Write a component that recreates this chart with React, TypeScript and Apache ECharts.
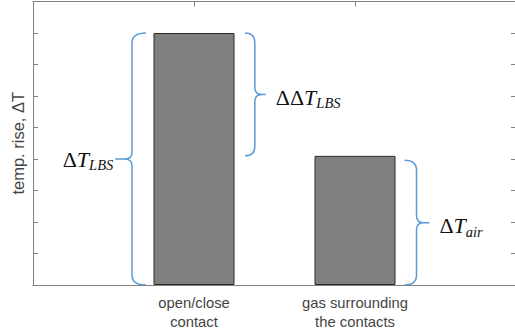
import React, { useEffect, useRef } from "react";
import * as echarts from "echarts";

const categories = ["open/close\ncontact", "gas surrounding\nthe contacts"];
const categoryPositions = [1, 2];
const values = [8, 4.1];

const yMin = 0;
const yMax = 9;
const xMin = 0;
const xMax = 3;

// brace annotations
const bracePrefix = ["Δ", "ΔΔ", "Δ"];
const braceSub = ["LBS", "LBS", "air"];
const braceSpineX = [0.615, 1.378, 2.382];
const braceEndX = [0.702, 1.317, 2.308];
const braceTipX = [0.511, 1.446, 2.462];
const braceLow = [0, 4.1, 0];
const braceHigh = [8, 8, 3.96];

const AXIS = "#808080";
const TEXT = "#444444";
const BRACE = "#5b9bd5";

export default function App() {
  const ref = useRef<HTMLDivElement>(null);
  useEffect(() => {
    if (!ref.current) return;
    const chart = echarts.init(ref.current, undefined, { renderer: "svg" });
    const braceData = braceSpineX.map((s, i) => [s, braceEndX[i], braceTipX[i], braceLow[i], braceHigh[i]]);
    const axisCommon = {
      type: "value" as const,
      splitLine: { show: false },
      axisLine: { show: true, onZero: false, lineStyle: { color: AXIS, width: 1 } },
      axisTick: { show: true, inside: true, length: 5, lineStyle: { color: AXIS } },
    };
    chart.setOption({
      animation: false,
      grid: { left: 33, right: 0, top: 1.5, bottom: 46 },
      xAxis: [
        {
          ...axisCommon,
          position: "bottom",
          min: xMin,
          max: xMax,
          interval: 1,
          axisLabel: {
            show: true,
            margin: 8,
            fontSize: 14.8,
            lineHeight: 19,
            color: TEXT,
            fontFamily: "Liberation Sans",
            formatter: (v: number) => {
              const idx = categoryPositions.indexOf(v);
              return idx >= 0 ? categories[idx] : "";
            },
          },
        },
        {
          ...axisCommon,
          position: "top",
          min: xMin,
          max: xMax,
          interval: 1,
          axisLabel: { show: false },
        },
      ],
      yAxis: [
        {
          ...axisCommon,
          position: "left",
          min: yMin,
          max: yMax,
          interval: 1,
          axisLabel: { show: false },
          name: "temp. rise, ΔT",
          nameLocation: "middle",
          nameGap: 7,
          nameTextStyle: { fontSize: 16.5, color: TEXT, fontFamily: "Liberation Sans" },
        },
        {
          ...axisCommon,
          position: "right",
          min: yMin,
          max: yMax,
          interval: 1,
          axisLabel: { show: false },
        },
      ],
      series: [
        {
          type: "bar",
          xAxisIndex: 0,
          yAxisIndex: 0,
          barWidth: 81,
          data: categoryPositions.map((p, i) => [p, values[i]]),
          itemStyle: { color: "#808080", borderColor: "#2b2b2b", borderWidth: 1 },
        },
        {
          type: "custom",
          xAxisIndex: 0,
          yAxisIndex: 0,
          clip: false,
          z: 5,
          data: braceData,
          renderItem: (params: any, api: any) => {
            const i = params.dataIndex;
            const spine = api.value(0);
            const end = api.value(1);
            const tip = api.value(2);
            const lo = api.value(3);
            const hi = api.value(4);
            const [sx, yTop] = api.coord([spine, hi]);
            const yBot = api.coord([spine, lo])[1];
            const ex = api.coord([end, hi])[0];
            const tx = api.coord([tip, hi])[0];
            const ym = (yTop + yBot) / 2;
            const r = Math.min(Math.abs(ex - sx), 10);
            const d = Math.sign(tx - sx);
            const c = 7;
            const path =
              `M${ex},${yTop} Q${sx},${yTop} ${sx},${yTop + r} L${sx},${ym - c} Q${sx},${ym} ${sx + d * c},${ym} L${tx},${ym} ` +
              `M${sx + d * c},${ym} Q${sx},${ym} ${sx},${ym + c} L${sx},${yBot - r} Q${sx},${yBot} ${ex},${yBot}`;
            const gap = d < 0 ? 2 : 10;
            const dy = d < 0 ? 0 : 3;
            return {
              type: "group",
              children: [
                {
                  type: "path",
                  shape: { pathData: path },
                  style: { fill: "none", stroke: BRACE, lineWidth: 1.5 },
                },
                {
                  type: "text",
                  x: tx + d * gap,
                  y: ym + dy,
                  style: {
                    text: `{d|${bracePrefix[i]}}{t|T}{s|${braceSub[i]}}`,
                    align: d < 0 ? "right" : "left",
                    verticalAlign: "middle",
                    rich: {
                      d: { fontFamily: "Liberation Serif", fontSize: 22, lineHeight: 27, fill: "#111" },
                      t: { fontFamily: "Liberation Serif", fontStyle: "italic", fontSize: 22, lineHeight: 27, fill: "#111" },
                      s: { fontFamily: "Liberation Serif", fontStyle: "italic", fontSize: 14.5, lineHeight: 14, verticalAlign: "bottom", fill: "#111" },
                    },
                  },
                },
              ],
            };
          },
        },
      ],
    });
    return () => chart.dispose();
  }, []);
  return (
    <div style={{ position: "absolute", left: 0, top: 0, width: 515, height: 331, overflow: "hidden", background: "#fff" }}>
      <div ref={ref} style={{ width: 519, height: 331 }} />
    </div>
  );
}
